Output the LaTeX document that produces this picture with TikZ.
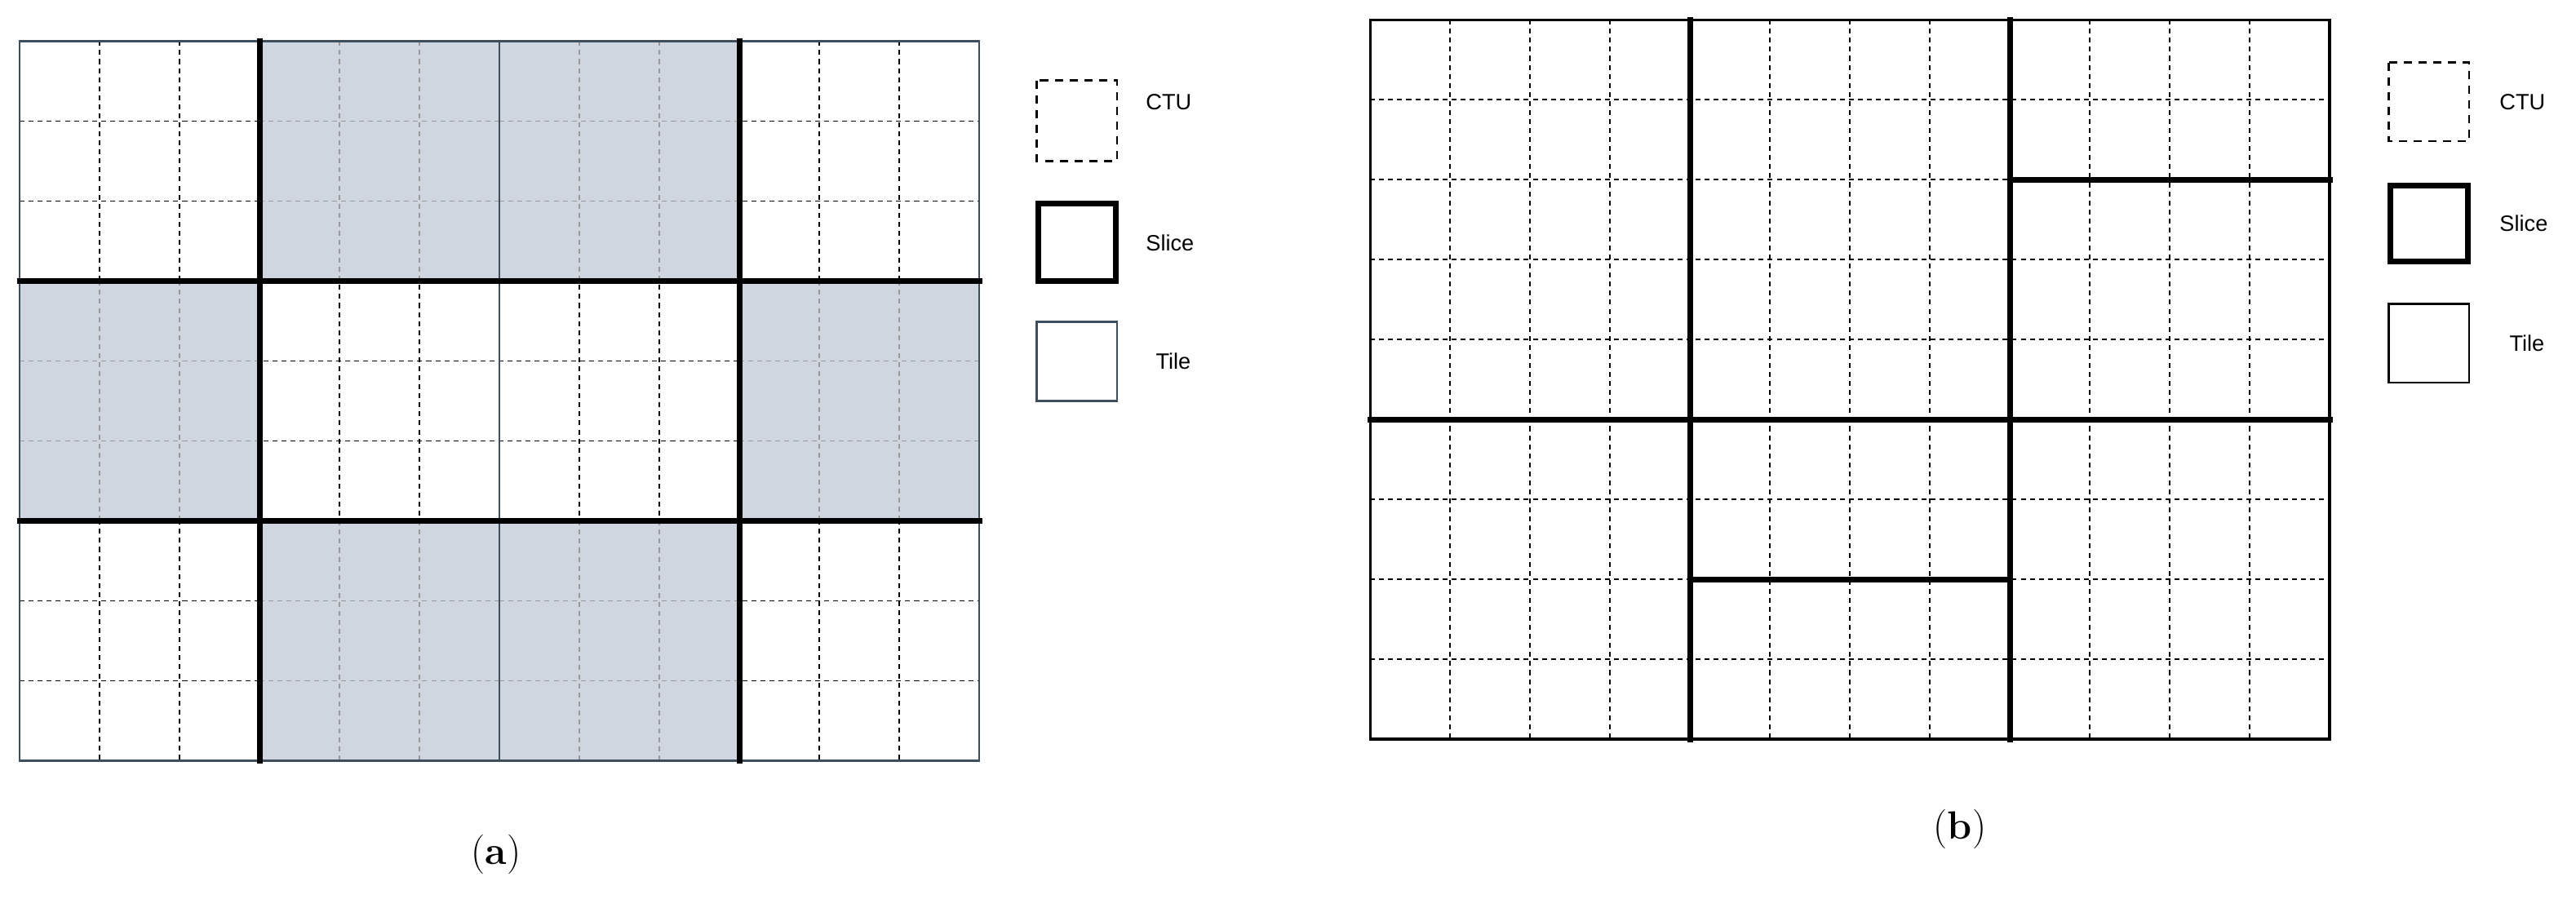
\documentclass[tikz,border=0pt]{standalone}
\usepackage{fontspec}
\newfontfamily\lab{Liberation Sans}
\begin{document}
\begin{tikzpicture}[x=1pt,y=-1pt,
  ctu/.style={dash pattern=on 3pt off 2.5pt, line width=0.7pt},
  ctug/.style={ctu, draw=black!40},
  slicel/.style={line width=3.5pt, line cap=rect},
  tilel/.style={line width=1.3pt, draw=slate},
  legtxt/.style={font=\lab\fontsize{13.5}{16}\selectfont, anchor=west}]
\definecolor{slate}{HTML}{3E4E5C}
\definecolor{tileshade}{HTML}{CFD6DF}
\useasboundingbox (0,0) rectangle (1568,547);
\def\c{48.667}
% ---------- panel (a)
\begin{scope}[shift={(12,25)}]
  \foreach \i in {1,2,4,5,7,8,10,11} {
    \draw[ctu] (\i*\c,0) -- ++(0,9*\c);}
  \foreach \j in {1,2,4,5,7,8} {
    \draw[ctu] (0,\j*\c) -- ++(12*\c,0);}
  \foreach \tx/\ty in {1/0,2/0,0/1,3/1,1/2,2/2} {
    \fill[tileshade] (\tx*3*\c,\ty*3*\c) rectangle ++(3*\c,3*\c);
    \foreach \k in {1,2} {
      \draw[ctug] (\tx*3*\c+\k*\c,\ty*3*\c) -- ++(0,3*\c);
      \draw[ctug] (\tx*3*\c,\ty*3*\c+\k*\c) -- ++(3*\c,0);}}
  \draw[tilel] (6*\c,0) -- (6*\c,9*\c);
  \draw[tilel] (0,0) rectangle (12*\c,9*\c);
  \draw[slicel] (3*\c,0) -- (3*\c,9*\c);
  \draw[slicel] (9*\c,0) -- (9*\c,9*\c);
  \draw[slicel] (0,3*\c) -- (12*\c,3*\c);
  \draw[slicel] (0,6*\c) -- (12*\c,6*\c);
\end{scope}
% legend (a)
\draw[line width=1.2pt, dash pattern=on 5pt off 4pt] (631,49) rectangle (680,98);
\node[legtxt] at (694,62) {CTU};
\draw[line width=3.5pt] (632,124) rectangle (679,171);
\node[legtxt] at (694,148) {Slice};
\draw[line width=1.3pt, draw=slate] (631,196) rectangle (680,244);
\node[legtxt] at (700,220) {Tile};
\node (la) at (302,520) {\fontsize{24}{28}\selectfont(\textbf{a})};
% ---------- panel (b)
\begin{scope}[shift={(834,12)}]
  \foreach \i in {1,...,11} {
    \draw[ctu] (\i*\c,0) -- ++(0,9*\c);}
  \foreach \j in {1,...,8} {
    \draw[ctu] (0,\j*\c) -- ++(12*\c,0);}
  \draw[line width=1.6pt] (0,0) rectangle (12*\c,9*\c);
  \draw[slicel] (4*\c,0) -- (4*\c,9*\c);
  \draw[slicel] (8*\c,0) -- (8*\c,9*\c);
  \draw[slicel] (0,5*\c) -- (12*\c,5*\c);
  \draw[slicel] (8*\c,2*\c) -- (12*\c,2*\c);
  \draw[slicel] (4*\c,7*\c) -- (8*\c,7*\c);
\end{scope}
% legend (b)
\draw[line width=1.2pt, dash pattern=on 5pt off 4pt] (1454,38) rectangle (1503,86);
\node[legtxt] at (1518,62) {CTU};
\draw[line width=3.5pt] (1455,113) rectangle (1502,159);
\node[legtxt] at (1518,136) {Slice};
\draw[line width=1.3pt] (1454,185) rectangle (1503,233);
\node[legtxt] at (1524,209) {Tile};
\node (lb) at (1193,505) {\fontsize{24}{28}\selectfont(\textbf{b})};
\end{tikzpicture}
\end{document}
